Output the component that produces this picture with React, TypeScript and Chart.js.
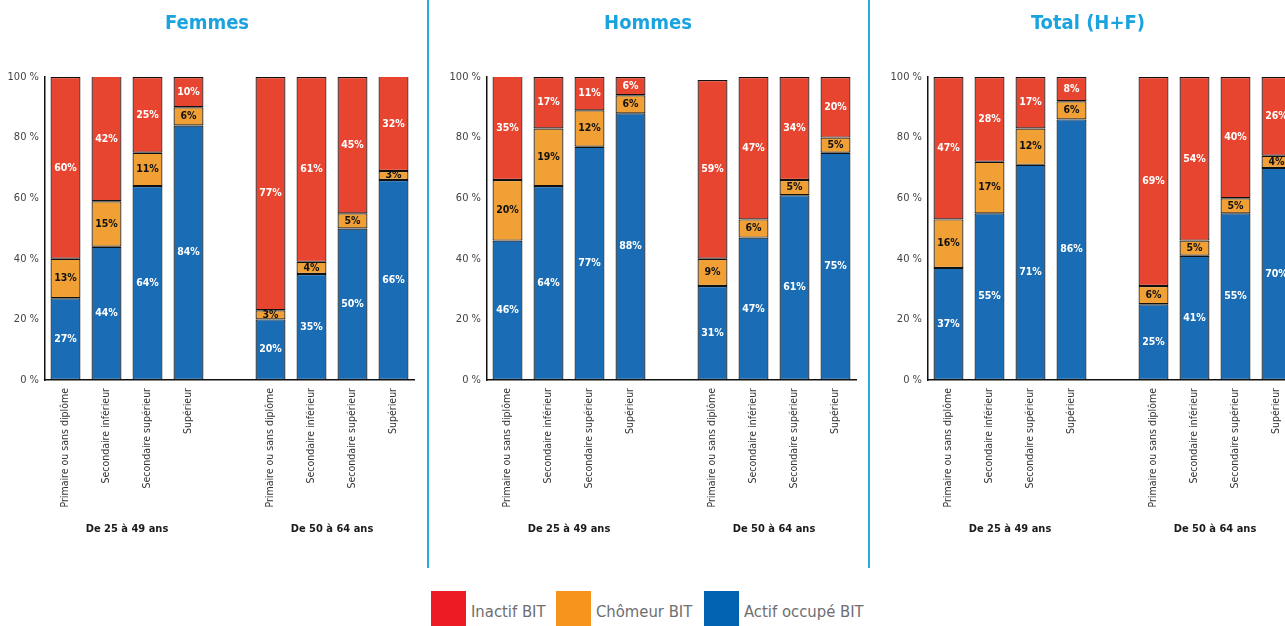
import React, { useEffect, useRef } from "react";
import { Chart, registerables } from "chart.js";

Chart.register(...registerables);

const categories = ["Primaire ou sans diplôme", "Secondaire inférieur", "Secondaire supérieur", "Supérieur"];
const ageGroups = ["De 25 à 49 ans", "De 50 à 64 ans"];
const seriesNames = ["Actif occupé BIT", "Chômeur BIT", "Inactif BIT"];
const panelTitles = ["Femmes", "Hommes", "Total (H+F)"];

const femmesActif = [27, 44, 64, 84, 20, 35, 50, 66];
const femmesChomeur = [13, 15, 11, 6, 3, 4, 5, 3];
const femmesInactif = [60, 42, 25, 10, 77, 61, 45, 32];

const hommesActif = [46, 64, 77, 88, 31, 47, 61, 75];
const hommesChomeur = [20, 19, 12, 6, 9, 6, 5, 5];
const hommesInactif = [35, 17, 11, 6, 59, 47, 34, 20];

const totalActif = [37, 55, 71, 86, 25, 41, 55, 70];
const totalChomeur = [16, 17, 12, 6, 6, 5, 5, 4];
const totalInactif = [47, 28, 17, 8, 69, 54, 40, 26];

const yTicks = [0, 20, 40, 60, 80, 100];

const barColors = ["#1a6cb5", "#f0a035", "#e84530"];
const legendColors = ["#0062b0", "#f7941d", "#ed1c24"];
const labelColors = ["#ffffff", "#111111", "#ffffff"];

const FONT = "'DejaVu Sans Condensed', 'Liberation Sans', sans-serif";

const withGap = (a: number[]) => [...a.slice(0, 4), null, ...a.slice(4)];
const xLabels = [...categories, "", ...categories];

const panels = [
  { title: panelTitles[0], data: [femmesActif, femmesChomeur, femmesInactif], left: 0, titleX: 207 },
  { title: panelTitles[1], data: [hommesActif, hommesChomeur, hommesInactif], left: 442, titleX: 648 },
  { title: panelTitles[2], data: [totalActif, totalChomeur, totalInactif], left: 883, titleX: 1088 },
];

const valueLabelPlugin = {
  id: "valueLabels",
  afterDatasetsDraw(chart: any) {
    const ctx = chart.ctx;
    ctx.save();
    ctx.font = `bold 10.5px ${FONT}`;
    ctx.textAlign = "center";
    ctx.textBaseline = "middle";
    chart.data.datasets.forEach((ds: any, i: number) => {
      const meta = chart.getDatasetMeta(i);
      meta.data.forEach((el: any, j: number) => {
        const v = ds.data[j];
        if (v == null) return;
        const p = el.getProps(["x", "y", "base"], true);
        const top = Math.max(p.y, chart.chartArea.top);
        ctx.fillStyle = labelColors[i];
        ctx.fillText(v + "%", p.x, (top + p.base) / 2);
      });
    });
    ctx.restore();
  },
};

const groupLabelPlugin = {
  id: "groupLabels",
  afterDraw(chart: any) {
    const ctx = chart.ctx;
    const xs = chart.scales.x;
    ctx.save();
    ctx.font = `bold 11px ${FONT}`;
    ctx.fillStyle = "#1a1a1a";
    ctx.textAlign = "center";
    ctx.textBaseline = "middle";
    const groups = [[0, 3], [5, 8]];
    groups.forEach((g, k) => {
      const mid = (xs.getPixelForValue(g[0]) + xs.getPixelForValue(g[1])) / 2;
      ctx.fillText(ageGroups[k], mid, chart.chartArea.bottom + 149);
    });
    ctx.restore();
  },
};

function Panel({ p }: { p: any }) {
  const ref = useRef<HTMLCanvasElement>(null);
  useEffect(() => {
    if (!ref.current) return;
    const chart = new Chart(ref.current, {
      type: "bar",
      data: {
        labels: xLabels,
        datasets: p.data.map((arr: number[], i: number) => ({
          label: seriesNames[i],
          data: withGap(arr),
          backgroundColor: barColors[i],
          borderColor: "#111111",
          borderWidth: 1.2,
          borderSkipped: false,
          barPercentage: 0.73,
          categoryPercentage: 1,
        })),
      },
      options: {
        animation: false,
        responsive: false,
        maintainAspectRatio: false,
        layout: { padding: { top: 77, right: 4, left: 0, bottom: 0 } },
        plugins: { legend: { display: false }, tooltip: { enabled: false }, title: { display: false } },
        scales: {
          x: {
            stacked: true,
            grid: { display: false, drawTicks: false },
            border: { display: true, color: "#111", width: 1.5 },
            ticks: {
              autoSkip: false,
              minRotation: 90,
              maxRotation: 90,
              padding: 8,
              color: "#333",
              font: { family: FONT, size: 10.5 },
            },
            afterFit: (s: any) => {
              s.height = 190;
            },
          },
          y: {
            stacked: true,
            min: 0,
            max: 100,
            afterBuildTicks: (s: any) => {
              s.ticks = yTicks.map((v) => ({ value: v }));
            },
            grid: { display: false, drawTicks: false },
            border: { display: true, color: "#111", width: 1.5 },
            ticks: {
              padding: 6,
              color: "#444",
              font: { family: FONT, size: 11 },
              callback: (v: any) => v + " %",
            },
            afterFit: (s: any) => {
              s.width = 45;
            },
          },
        },
      },
      plugins: [valueLabelPlugin, groupLabelPlugin],
    });
    return () => chart.destroy();
  }, []);
  return (
    <canvas
      ref={ref}
      width={418}
      height={570}
      style={{ position: "absolute", left: p.left, top: 0, width: 418, height: 570 }}
    />
  );
}

export default function App() {
  const legendOrder = [2, 1, 0];
  const legendPos = [431, 556, 704];
  return (
    <div style={{ position: "fixed", left: 0, top: 0, width: 1285, height: 626, overflow: "hidden", background: "#fff", fontFamily: FONT }}>
      {panels.map((p, i) => (
        <Panel key={i} p={p} />
      ))}
      {panels.map((p, i) => (
        <div
          key={"t" + i}
          style={{
            position: "absolute",
            left: p.titleX,
            top: 9,
            transform: "translateX(-50%)",
            fontWeight: "bold",
            fontSize: 20,
            color: "#1ba3e0",
            whiteSpace: "nowrap",
            lineHeight: "26px",
          }}
        >
          {p.title}
        </div>
      ))}
      <div style={{ position: "absolute", left: 427, top: 0, width: 2, height: 568, background: "#2aa9e0" }} />
      <div style={{ position: "absolute", left: 868, top: 0, width: 2, height: 568, background: "#2aa9e0" }} />
      {legendOrder.map((si, k) => (
        <React.Fragment key={"l" + k}>
          <div style={{ position: "absolute", left: legendPos[k], top: 591, width: 35, height: 35, background: legendColors[si] }} />
          <div
            style={{
              position: "absolute",
              left: legendPos[k] + 40,
              top: 598,
              fontSize: 16.5,
              lineHeight: "28px",
              color: "#6d6e70",
              whiteSpace: "nowrap",
            }}
          >
            {seriesNames[si]}
          </div>
        </React.Fragment>
      ))}
    </div>
  );
}
